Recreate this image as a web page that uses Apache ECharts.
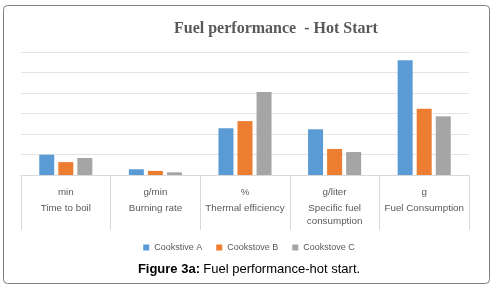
<!DOCTYPE html>
<html>
<head>
<meta charset="utf-8">
<script src="https://cdn.jsdelivr.net/npm/echarts@6/dist/echarts.min.js"></script>
<style>
  html, body { margin: 0; padding: 0; background: #fff; }
  #chart { width: 498px; height: 292px; }
</style>
</head>
<body>
<div id="chart"></div>
<script>
  var units = ['min', 'g/min', '%', 'g/liter', 'g'];
  var categories = ['Time to boil', 'Burning rate', 'Thermal efficiency', 'Specific fuel\nconsumption', 'Fuel Consumption'];
  var seriesNames = ['Cookstive A', 'Cookstove B', 'Cookstove C'];
  var cookA = [0.99, 0.28, 2.28, 2.23, 5.6];
  var cookB = [0.63, 0.2, 2.63, 1.27, 3.23];
  var cookC = [0.83, 0.13, 4.05, 1.12, 2.86];
  var colors = ['#5B9BD5', '#ED7D31', '#A5A5A5'];

  var chart = echarts.init(document.getElementById('chart'));

  var option = {
    animation: false,
    backgroundColor: '#fff',
    color: colors,
    title: {
      text: 'Fuel performance  - Hot Start',
      left: 169,
      top: 16,
      textStyle: {
        fontFamily: 'Liberation Serif',
        fontWeight: 'bold',
        fontSize: 16,
        color: '#595959'
      }
    },
    legend: {
      data: seriesNames,
      top: 238,
      left: 'center',
      itemWidth: 6,
      itemHeight: 6,
      itemGap: 14,
      icon: 'rect',
      textStyle: { fontFamily: 'Liberation Sans', fontSize: 9, color: '#595959' }
    },
    grid: { left: 21, right: 29, top: 52, bottom: 117 },
    xAxis: {
      type: 'category',
      data: categories,
      axisLine: { lineStyle: { color: '#d9d9d9' } },
      axisTick: { show: true, length: 55, lineStyle: { color: '#d9d9d9' } },
      axisLabel: {
        margin: 7,
        interval: 0,
        formatter: function (value, idx) {
          var lines = value.split('\n').map(function (s) { return '{n|' + s + '}'; });
          return '{u|' + units[idx] + '}\n' + lines.join('\n');
        },
        rich: {
          u: { fontFamily: 'Liberation Sans', fontSize: 9.8, color: '#595959', lineHeight: 20, height: 20 },
          n: { fontFamily: 'Liberation Sans', fontSize: 9.8, color: '#595959', lineHeight: 13 }
        },
        verticalAlign: 'top'
      }
    },
    yAxis: {
      type: 'value',
      min: 0,
      max: 6,
      interval: 1,
      axisLabel: { show: false },
      axisLine: { show: false },
      axisTick: { show: false },
      splitLine: { lineStyle: { color: '#e4e4e4' } }
    },
    series: [
      { name: seriesNames[0], type: 'bar', data: cookA, barWidth: 15, barGap: '27%' },
      { name: seriesNames[1], type: 'bar', data: cookB, barWidth: 15, barGap: '27%' },
      { name: seriesNames[2], type: 'bar', data: cookC, barWidth: 15, barGap: '27%' }
    ],
    graphic: [
      {
        type: 'rect',
        shape: { x: 3.5, y: 5.5, width: 486, height: 278, r: 4 },
        style: { fill: 'none', stroke: '#7f7f7f', lineWidth: 1 },
        z: 100
      },
      {
        type: 'text',
        left: 'center',
        top: 263,
        style: {
          text: '{b|Figure 3a:} {r|Fuel performance-hot start.}',
          rich: {
            b: { fontFamily: 'Liberation Sans', fontWeight: 'bold', fontSize: 13, fill: '#000' },
            r: { fontFamily: 'Liberation Sans', fontSize: 13, fill: '#000' }
          }
        }
      }
    ]
  };

  chart.setOption(option);
</script>
</body>
</html>
